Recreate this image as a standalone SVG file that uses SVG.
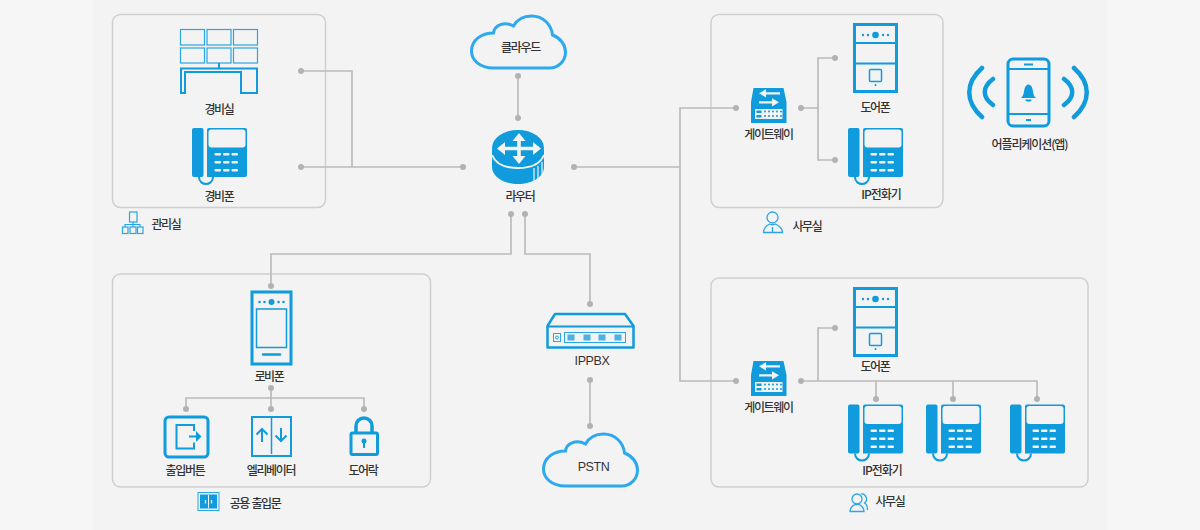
<svg xmlns="http://www.w3.org/2000/svg" width="1200" height="530" viewBox="0 0 1200 530">
<style>
text{font-family:"Noto Sans CJK KR","Liberation Sans",sans-serif;font-size:12px;font-weight:500;fill:#333;text-anchor:middle;letter-spacing:-1.3px}
.lat{font-family:"Liberation Sans",sans-serif;font-size:12.5px;font-weight:400;letter-spacing:-0.4px}
.box{fill:#f3f3f3;stroke:#cfcfcf;stroke-width:1.5}
.ln{fill:none;stroke:#bbb;stroke-width:1.7}
.dot{fill:#b2b2b2}
.s{fill:none;stroke:#0f9bdc}
.t{fill:none;stroke:#2aa6e2}
.f{fill:#0f9bdc}
.w{fill:#f3f3f3}
.c{fill:#f3f3f3;stroke:#2fa9ee;stroke-width:3}
</style>
<defs>
<g id="phone">
<rect x="1" y="0" width="11.500" height="49" rx="2" class="f"/>
<path d="M16 2a2 2 0 0 1 2-2h36a2 2 0 0 1 2 2v45a2 2 0 0 1-2 2H16z" class="f"/>
<rect x="17.500" y="1.500" width="37" height="18" rx="3" class="w"/>
<path d="M8 49c0 5 4 7 7 7s7-2 7-7" fill="none" stroke="#0f9bdc" stroke-width="2"/>
<g class="w"><rect x="23.500" y="25" width="6.500" height="2.500" rx="1"/><rect x="32" y="25" width="6.500" height="2.500" rx="1"/><rect x="40.500" y="25" width="6.500" height="2.500" rx="1"/><rect x="23.500" y="33" width="6.500" height="2.500" rx="1"/><rect x="32" y="33" width="6.500" height="2.500" rx="1"/><rect x="40.500" y="33" width="6.500" height="2.500" rx="1"/><rect x="23.500" y="41" width="6.500" height="2.500" rx="1"/><rect x="32" y="41" width="6.500" height="2.500" rx="1"/><rect x="40.500" y="41" width="6.500" height="2.500" rx="1"/></g>
</g>
<g id="door">
<rect x="1.500" y="1.500" width="42" height="67" fill="none" stroke="#0f9bdc" stroke-width="3"/>
<path d="M1 20h43M1 40.500h43" stroke="#0f9bdc" stroke-width="2"/>
<circle cx="22.500" cy="12" r="3.300" class="f"/>
<g class="f"><circle cx="10" cy="12" r="1.200"/><circle cx="15" cy="12" r="1.200"/><circle cx="30" cy="12" r="1.200"/><circle cx="35" cy="12" r="1.200"/><circle cx="22.500" cy="62" r="1"/></g>
<rect x="16.500" y="46.500" width="12" height="12" rx="1" class="s" stroke-width="1.500"/>
</g>
<g id="gw">
<path d="M2.500 0H32.500L35.500 14V35H0V14Z" class="f"/>
<path d="M15 4.200h14v2.200H15v3L8 5.300l7-4zM21 13.200H8v2.200h13v3l7-4.100-7-4.100z" fill="#f3f3f3"/>
<rect x="4" y="21" width="27.500" height="10" class="w"/>
<g class="f"><rect x="5.500" y="22.500" width="5" height="2.500"/><rect x="5.500" y="27" width="5" height="2.500"/><circle cx="14" cy="23.500" r="1"/><circle cx="18" cy="23.500" r="1"/><circle cx="22" cy="23.500" r="1"/><circle cx="26" cy="23.500" r="1"/><circle cx="30" cy="23.500" r="1"/><circle cx="14" cy="28" r="1"/><circle cx="18" cy="28" r="1"/><circle cx="22" cy="28" r="1"/><circle cx="26" cy="28" r="1"/><circle cx="30" cy="28" r="1"/></g>
</g>
<path id="cloud" d="M22 53C8 53 0 45 0 36C0 25 10 18 22 18C23 10 33 6 42 11C46 4 53 1 60 1C72 1 80 10 81 20C89 23 94 30 94 37C94 46 87 53 78 53Z"/>
</defs>
<rect width="1200" height="530" fill="#f6f6f6"/>
<rect x="93" y="0" width="1014" height="530" fill="#f3f3f3"/>

<rect class="box" x="112.500" y="14.500" width="213" height="193" rx="8"/>
<rect class="box" x="112.500" y="274" width="318" height="213" rx="8"/>
<rect class="box" x="711" y="14.500" width="232" height="193" rx="8"/>
<rect class="box" x="711" y="278" width="377" height="209" rx="8"/>

<g id="connectors">
<path class="ln" d="M301 71H352V167H463M301 167H352"/>
<path class="ln" d="M518 76V118"/>
<path class="ln" d="M574 167H680M736 108H680V381H736"/>
<path class="ln" d="M511 214V254H271V286M525 214V254H590V304"/>
<path class="ln" d="M590 380V426"/>
<path class="ln" d="M801 108H818V58H835M818 108V160H835"/>
<path class="ln" d="M801 381H1037V398M818 381V328H835M876 381V398M953 381V398"/>
<path class="ln" d="M271 388V409M186 409V398H364V409"/>
<g class="dot">
<circle cx="301" cy="71" r="3"/><circle cx="301" cy="167" r="3"/><circle cx="463" cy="167" r="3"/>
<circle cx="518" cy="76" r="3"/><circle cx="518" cy="118" r="3"/><circle cx="574" cy="167" r="3"/>
<circle cx="511" cy="214" r="3"/><circle cx="525" cy="214" r="3"/><circle cx="271" cy="286" r="3"/><circle cx="590" cy="304" r="3"/>
<circle cx="590" cy="380" r="3"/><circle cx="590" cy="426" r="3"/>
<circle cx="736" cy="108" r="3"/><circle cx="736" cy="381" r="3"/>
<circle cx="801" cy="108" r="3"/><circle cx="835" cy="58" r="3"/><circle cx="835" cy="160" r="3"/>
<circle cx="801" cy="381" r="3"/><circle cx="835" cy="328" r="3"/><circle cx="876" cy="399" r="3"/><circle cx="953" cy="399" r="3"/><circle cx="1037" cy="399" r="3"/>
<circle cx="271" cy="388" r="3"/><circle cx="186" cy="409" r="3"/><circle cx="271" cy="409" r="3"/><circle cx="364" cy="409" r="3"/>
</g>
</g>

<g id="guard-room">
<g class="t" stroke-width="1.200">
<rect x="180.500" y="29.500" width="24" height="15.500"/><rect x="207" y="29.500" width="24" height="15.500"/><rect x="233.500" y="29.500" width="24" height="15.500"/>
<rect x="180.500" y="48" width="24" height="15"/><rect x="207" y="48" width="24" height="15"/><rect x="233.500" y="48" width="24" height="15"/>
</g>
<path d="M219 63V68" class="s" stroke-width="2"/>
<path d="M181 93V68.500H257V93H241V72H185V93Z" fill="none" stroke="#0f9bdc" stroke-width="2"/>
<text x="219" y="114">경비실</text>
</g>
<g id="guard-phone"><use href="#phone" x="191" y="128"/><text x="219" y="201">경비폰</text></g>
<g id="mgmt-label">
<g class="t" stroke-width="1.200">
<rect x="129.500" y="212" width="7.500" height="10"/>
<path d="M133 222V227M125 227V224.500H140V227"/>
<rect x="122.500" y="227" width="5.500" height="6.500"/><rect x="130" y="227" width="6" height="6.500"/><rect x="137.500" y="227" width="5.500" height="6.500"/>
</g>
<text x="166" y="229">관리실</text>
</g>
<g id="cloud-node">
<use href="#cloud" x="471.500" y="15" class="c"/>
<text x="520.500" y="52">클라우드</text>
</g>
<g id="router">
<path d="M492 150v17c0 10 12 17 26 17s26-7 26-17v-17z" class="f"/>
<ellipse cx="518" cy="148" rx="26" ry="18" class="f"/>
<path d="M492 155c4 10 14 13 26 13s22-3 26-13" fill="none" stroke="#f3f3f3" stroke-width="2"/>
<path d="M534 168v14M538 166v13M542 162v13" stroke="#f3f3f3" stroke-width="1.200"/>
<path d="M519 140V157M505 148.500H533" stroke="#f3f3f3" stroke-width="3.600"/>
<path d="M519 133l6.500 8h-13zM519 164l6.500-8h-13zM497 148.500l8-6.500v13zM541 148.500l-8-6.500v13z" fill="#f3f3f3"/>
<text x="520" y="201">라우터</text>
</g>
<g id="pstn-cloud">
<use href="#cloud" x="543.500" y="433" class="c"/>
<text x="593.500" y="471" class="lat">PSTN</text>
</g>
<g id="ippbx">
<path d="M547.500 326V347.500H633.500V326L625 314H555Z" fill="#f3f3f3" stroke="#0f9bdc" stroke-width="2.500" stroke-linejoin="round"/>
<path d="M547 326.500H634" stroke="#0f9bdc" stroke-width="2"/>
<rect x="553.500" y="333.500" width="7" height="8" class="t" stroke-width="1"/>
<circle cx="557" cy="337.500" r="1.500" class="t" stroke-width="1"/>
<rect x="564.500" y="332.500" width="61" height="10" class="t" stroke-width="1"/>
<g fill="#4fb0e3"><rect x="567.500" y="334.500" width="7" height="6"/><rect x="583.500" y="334.500" width="7" height="6"/><rect x="598.500" y="334.500" width="7" height="6"/><rect x="614.500" y="334.500" width="7" height="6"/></g>
<text x="592" y="365" class="lat">IPPBX</text>
</g>
<g id="office1-gw"><use href="#gw" x="751" y="88"/><text x="768.500" y="139">게이트웨이</text></g>
<g id="office1-door"><use href="#door" x="853" y="23"/><text x="875" y="112">도어폰</text></g>
<g id="office1-phone"><use href="#phone" x="847" y="128"/><text x="881" y="199" style="letter-spacing:-1px">IP전화기</text></g>
<g id="office1-label">
<circle cx="772.500" cy="217.500" r="5.500" class="t" stroke-width="1.300"/>
<path d="M763.500 232.500c0-5 3-7 6-8.500 2 1 4 1 6 0 3 1.500 7 3.500 7 8.500zM772.500 227v5" class="t" stroke-width="1.300"/>
<text x="807" y="231">사무실</text>
</g>
<g id="app">
<rect x="1008" y="59" width="41" height="67" rx="5" class="s" stroke-width="3"/>
<path d="M1008 69h41M1008 114h41" class="s" stroke-width="2"/>
<path d="M1024 64.500h9M1026 120h5" class="s" stroke-width="2"/>
<path d="M1021 98c3-3 2.500-5 3.500-9 .5-3 2.500-4.500 4-4.500s3.500 1.500 4 4.500c1 4 .5 6 3.500 9z" class="f"/>
<path d="M1025.500 99.500h6v1c-1 1.500-5 1.500-6 0z" class="f"/>
<path d="M982 68c-17 15-17 34 0 49M993 79c-11 8-11 18 0 26M1074 68c17 15 17 34 0 49M1064 79c11 8 11 18 0 26" fill="none" stroke="#0f9bdc" stroke-width="4.500" stroke-linecap="round"/>
<text x="1029.500" y="149" style="letter-spacing:-1.1px">어플리케이션(앱)</text>
</g>
<g id="lobby">
<rect x="252" y="292" width="39" height="72" fill="none" stroke="#0f9bdc" stroke-width="3"/>
<rect x="256.500" y="309" width="30" height="38.500" fill="none" stroke="#0f9bdc" stroke-width="1.500"/>
<circle cx="271.500" cy="302" r="3" class="f"/><g class="f"><circle cx="259.500" cy="302" r="1.300"/><circle cx="264.500" cy="302" r="1.300"/><circle cx="278.500" cy="302" r="1.300"/><circle cx="283.500" cy="302" r="1.300"/></g>
<path d="M263 354.500h17" stroke="#0f9bdc" stroke-width="2.500" stroke-linecap="round"/>
<text x="269" y="381">로비폰</text>
</g>
<g id="exit-btn">
<rect x="165" y="417" width="43" height="40" rx="4" fill="none" stroke="#0f9bdc" stroke-width="3"/>
<path d="M194 431V425H176.500V448.500H194V442.500" fill="none" stroke="#0f9bdc" stroke-width="2"/>
<path d="M189 435.500h7v-4.500l5.500 5.500-5.500 5.500v-4.500h-7z" fill="#0f9bdc"/>
<text x="185" y="475">출입버튼</text>
</g>
<g id="elevator">
<rect x="252" y="417" width="39" height="39" fill="none" stroke="#0f9bdc" stroke-width="2"/>
<path d="M271.500 417V454" stroke="#0f9bdc" stroke-width="1.500"/>
<path d="M262 442V429M256.500 434.500l5.500-5.500 5.500 5.500M281 428V441M275.500 435.500l5.500 5.500 5.500-5.500" fill="none" stroke="#0f9bdc" stroke-width="2"/>
<text x="271" y="475">엘리베이터</text>
</g>
<g id="door-lock">
<path d="M356 433V426a8 8 0 0 1 16 0V433" fill="none" stroke="#0f9bdc" stroke-width="3.500"/>
<rect x="351" y="433" width="26.500" height="21.500" rx="1.500" fill="none" stroke="#0f9bdc" stroke-width="3"/>
<circle cx="364" cy="441" r="2.500" class="f"/><rect x="363" y="442" width="2" height="6" class="f"/>
<text x="363" y="475">도어락</text>
</g>
<g id="entrance-label">
<rect x="198" y="492.500" width="21" height="18" class="t" stroke-width="1"/>
<rect x="200" y="494.500" width="17" height="14" class="f"/>
<path d="M208.500 495V508" stroke="#f3f3f3" stroke-width="1"/>
<path d="M205.500 500v3.500M211.500 500v3.500" stroke="#f3f3f3" stroke-width="1.300"/>
<text x="255" y="508" style="word-spacing:1.500px;letter-spacing:-1.500px">공용 출입문</text>
</g>
<g id="office2-door"><use href="#door" x="853" y="287"/><text x="875" y="371">도어폰</text></g>
<g id="office2-gw"><use href="#gw" x="751" y="361"/><text x="768.500" y="412">게이트웨이</text></g>
<g id="office2-phone1"><use href="#phone" x="847" y="404.500"/><text x="882" y="475" style="letter-spacing:-1px">IP전화기</text></g>
<g id="office2-phone2"><use href="#phone" x="925" y="404.500"/></g>
<g id="office2-phone3"><use href="#phone" x="1009" y="404.500"/></g>
<g id="office2-label">
<circle cx="857" cy="499" r="5" class="t" stroke-width="1.300"/>
<path d="M850 511.500c0-5 3-6 5-7h4c2 1 5 2 5 7z" class="t" stroke-width="1.300"/>
<path d="M861 494a5 5 0 0 1 3.500 9c2 1 3 3 3 7" class="t" stroke-width="1.300"/>
<text x="890" y="506">사무실</text>
</g>
</svg>
